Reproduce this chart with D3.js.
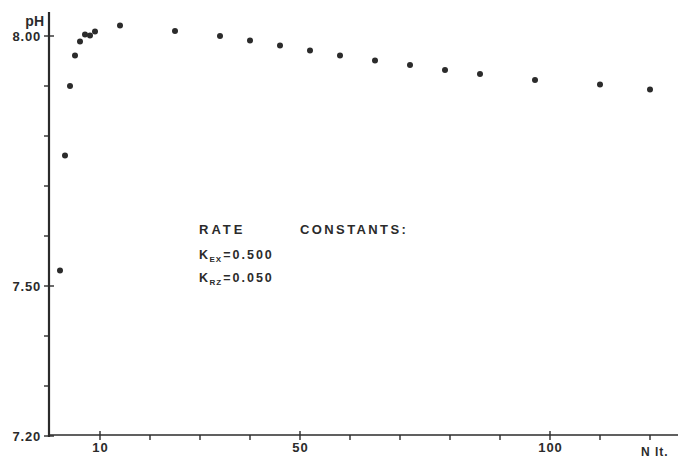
<!DOCTYPE html>
<html>
<head>
<meta charset="utf-8">
<script src="https://cdn.jsdelivr.net/npm/d3@7"></script>
<style>
  html, body { margin: 0; padding: 0; background: #fff; }
  svg { display: block; }
  text { font-family: "Liberation Sans", Arial, sans-serif; font-weight: bold; fill: #2b2b2b; }
</style>
</head>
<body>
<svg id="chart" width="678" height="458"></svg>
<script>
const nIt = [2, 3, 4, 5, 6, 7, 8, 9, 14, 25, 34, 40, 46, 52, 58, 65, 72, 79, 86, 97, 110, 120];
const pH  = [7.531, 7.761, 7.900, 7.961, 7.989, 8.003, 8.001, 8.009, 8.021, 8.010, 8.000, 7.991,
             7.981, 7.971, 7.961, 7.951, 7.942, 7.932, 7.924, 7.912, 7.903, 7.893];
const xTicks = [10, 20, 30, 40, 50, 60, 70, 80, 90, 100, 110, 120];
const xMajor = [10, 50, 100];
const yTicks = [7.2, 7.3, 7.4, 7.5, 7.6, 7.7, 7.8, 7.9, 8.0];
const yMajor = [7.2, 7.5, 8.0];
const yLabelText = ["7.20", "7.50", "8.00"];
const rateTitle = ["RATE", "CONSTANTS:"];
const rateLines = [{k: "K", sub: "EX", val: "=0.500"}, {k: "K", sub: "RZ", val: "=0.050"}];

const ink = "#2b2b2b";
const svg = d3.select("#chart");
const x = d3.scaleLinear().domain([0, 120]).range([50, 650]);
const y = d3.scaleLinear().domain([7.2, 8.0]).range([436, 36]);

// X axis (labels via d3.axisBottom, tick marks drawn from the same scale)
const xAxis = svg.append("g").attr("transform", "translate(0,435)")
  .call(d3.axisBottom(x).tickValues(xMajor).tickSize(0).tickFormat(d3.format("d")));
xAxis.select(".domain").remove();
xAxis.selectAll(".tick line").remove();
xAxis.selectAll(".tick text").attr("font-size", 13).attr("dy", 0).attr("y", 17)
  .attr("fill", ink).style("letter-spacing", "1px");
svg.append("line").attr("x1", 48).attr("x2", 678).attr("y1", 435).attr("y2", 435)
  .attr("stroke", ink).attr("stroke-width", 1.6);
svg.append("g").selectAll("line").data(xTicks).join("line")
  .attr("x1", d => x(d)).attr("x2", d => x(d))
  .attr("y1", d => xMajor.includes(d) ? 431 : 435).attr("y2", 440)
  .attr("stroke", ink).attr("stroke-width", 1.4);

// Y axis
const yAxis = svg.append("g").attr("transform", "translate(49,0)")
  .call(d3.axisLeft(y).tickValues(yMajor).tickSize(0).tickFormat((d, i) => yLabelText[i]));
yAxis.select(".domain").remove();
yAxis.selectAll(".tick line").remove();
yAxis.selectAll(".tick text").attr("font-size", 13).attr("x", -8)
  .attr("fill", ink).style("letter-spacing", "0.8px");
svg.append("line").attr("x1", 49).attr("x2", 49).attr("y1", 12).attr("y2", 437)
  .attr("stroke", ink).attr("stroke-width", 2.2);
svg.append("g").selectAll("line").data(yTicks).join("line")
  .attr("y1", d => y(d)).attr("y2", d => y(d))
  .attr("x1", 44).attr("x2", d => yMajor.some(m => Math.abs(m - d) < 1e-9) ? 54 : 49)
  .attr("stroke", ink).attr("stroke-width", 1.4);

// Axis titles
svg.append("text").attr("x", 44).attr("y", 26).attr("text-anchor", "end")
  .attr("font-size", 14).text("pH");
svg.append("text").attr("x", 641).attr("y", 456).attr("font-size", 12)
  .style("letter-spacing", "1px").text("N lt.");

// Points
svg.append("g").selectAll("circle").data(nIt).join("circle")
  .attr("cx", (d) => x(d)).attr("cy", (d, i) => y(pH[i])).attr("r", 3).attr("fill", ink);

// Annotation
svg.append("text").attr("x", 199).attr("y", 234).attr("font-size", 13)
  .style("letter-spacing", "3px").text(rateTitle[0]);
svg.append("text").attr("x", 300).attr("y", 234).attr("font-size", 13)
  .style("letter-spacing", "2.4px").text(rateTitle[1]);
rateLines.forEach((r, i) => {
  const t = svg.append("text").attr("x", 199).attr("y", 259 + i * 23).attr("font-size", 12.5);
  t.append("tspan").text(r.k);
  t.append("tspan").attr("font-size", 8).attr("dy", 3).attr("dx", 1.5).style("letter-spacing", "1px").text(r.sub);
  t.append("tspan").attr("dy", -3).attr("dx", 1).style("letter-spacing", "2px").text(r.val);
});
</script>
</body>
</html>
